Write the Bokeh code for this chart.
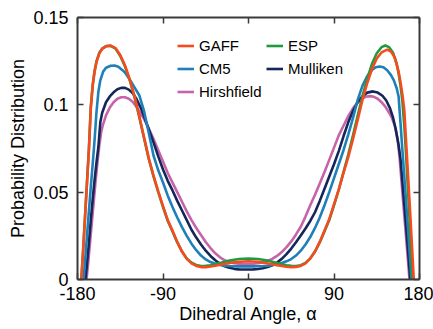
from bokeh.plotting import figure
from bokeh.models import Range1d, FixedTicker, LinearAxis, Legend, LegendItem, CustomJSTickFormatter
from bokeh.embed import file_html
from bokeh.resources import INLINE

# ---- data ----
x_ticks = [-180, -90, 0, 90, 180]
y_ticks = [0, 0.05, 0.1, 0.15]

gaff_a = [-176, -174, -172, -170, -168, -166, -164, -162, -160, -157, -154, -150, -145, -140, -135, -130,
          -125, -120, -115, -110, -105, -100, -95, -90, -85, -80, -75, -70, -65, -60, -55, -50, -45, -40,
          -35, -30, -25, -20, -15, -10, -5, 0, 5, 10, 15, 20, 25, 30, 35, 40, 45, 50, 55, 60, 65, 70, 75,
          80, 85, 90, 95, 100, 105, 110, 115, 120, 125, 130, 135, 140, 146, 150, 154, 158, 160, 162, 164,
          166, 168, 170, 172, 174]
gaff_p = [0.0, 0.017, 0.036, 0.055, 0.074, 0.098, 0.111, 0.119, 0.1245, 0.1295, 0.1320, 0.1335, 0.1339,
          0.1325, 0.1285, 0.1225, 0.1145, 0.1050, 0.0935, 0.0815, 0.0695, 0.0595, 0.0505, 0.0420, 0.0340,
          0.0280, 0.0215, 0.0160, 0.0118, 0.0092, 0.0078, 0.0071, 0.0071, 0.0074, 0.0079, 0.0084, 0.0089,
          0.0094, 0.0098, 0.0101, 0.0103, 0.0104, 0.0103, 0.0101, 0.0097, 0.0092, 0.0087, 0.0082, 0.0077,
          0.0073, 0.0071, 0.0072, 0.0078, 0.0092, 0.0120, 0.0160, 0.0215, 0.0280, 0.0345, 0.0430, 0.0515,
          0.0610, 0.0700, 0.0805, 0.0915, 0.1030, 0.1125, 0.1205, 0.1265, 0.1300, 0.1316, 0.1305, 0.1270,
          0.1190, 0.1130, 0.1060, 0.0970, 0.0780, 0.0590, 0.0400, 0.0200, 0.0]

esp_a = [-176, -174, -172, -170, -168, -166, -164, -162, -160, -157, -154, -150, -145, -140, -135, -130,
         -125, -120, -115, -110, -105, -100, -95, -90, -85, -80, -75, -70, -65, -60, -55, -50, -45, -40,
         -35, -30, -25, -20, -15, -10, -5, 0, 5, 10, 15, 20, 25, 30, 35, 40, 45, 50, 55, 60, 65, 70, 75,
         80, 85, 90, 95, 100, 105, 110, 115, 120, 125, 130, 135, 140, 144, 148, 152, 156, 158, 160, 162,
         164, 166, 168, 170, 172, 172.5]
esp_p = [0.0, 0.018, 0.037, 0.056, 0.075, 0.099, 0.1115, 0.1195, 0.125, 0.1298, 0.1322, 0.1336, 0.1338,
         0.1322, 0.1280, 0.1220, 0.1140, 0.1045, 0.0930, 0.0810, 0.0690, 0.0590, 0.0500, 0.0415, 0.0335,
         0.0275, 0.0212, 0.0160, 0.0120, 0.0096, 0.0083, 0.0077, 0.0078, 0.0082, 0.0088, 0.0095, 0.0102,
         0.0108, 0.0113, 0.0117, 0.0119, 0.0120, 0.0119, 0.0117, 0.0113, 0.0108, 0.0102, 0.0095, 0.0088,
         0.0082, 0.0078, 0.0077, 0.0082, 0.0095, 0.0121, 0.0160, 0.0212, 0.0275, 0.0340, 0.0425, 0.0515,
         0.0615, 0.0715, 0.0825, 0.0940, 0.1050, 0.1150, 0.1235, 0.1295, 0.1330, 0.1340, 0.1330, 0.1300,
         0.1235, 0.1180, 0.1110, 0.1020, 0.0880, 0.0700, 0.0500, 0.0300, 0.0080, 0.0]

cm5_a = [-173.5, -172, -170, -168, -166, -164, -162, -160, -158, -156, -153, -150, -145, -141, -137, -133,
         -130, -125, -120, -115, -110, -105, -100, -95, -90, -85, -80, -75, -70, -65, -60, -55, -50, -45,
         -40, -35, -30, -25, -20, -15, -10, -5, 0, 5, 10, 15, 20, 25, 30, 35, 40, 45, 50, 55, 60, 65, 70,
         75, 80, 85, 90, 95, 100, 105, 110, 115, 120, 125, 130, 134, 138, 142, 146, 150, 153, 156, 158,
         160, 162, 164, 166, 168, 170, 171.6]
cm5_p = [0.0, 0.011, 0.025, 0.039, 0.053, 0.066, 0.080, 0.096, 0.1075, 0.1140, 0.1190, 0.1212, 0.1224,
         0.1225, 0.1218, 0.1200, 0.1185, 0.1145, 0.1100, 0.1055, 0.0965, 0.0840, 0.0710, 0.0625, 0.0555,
         0.0480, 0.0415, 0.0355, 0.0300, 0.0250, 0.0205, 0.0168, 0.0137, 0.0115, 0.0100, 0.0090, 0.0083,
         0.0079, 0.0077, 0.0076, 0.0075, 0.0075, 0.0075, 0.0075, 0.0076, 0.0077, 0.0079, 0.0082, 0.0087,
         0.0094, 0.0104, 0.0117, 0.0137, 0.0165, 0.0200, 0.0243, 0.0295, 0.0355, 0.0425, 0.0500, 0.0580,
         0.0660, 0.0740, 0.0830, 0.0925, 0.1030, 0.1110, 0.1165, 0.1200, 0.1215, 0.1220, 0.1215, 0.1198,
         0.1170, 0.1140, 0.1095, 0.1048, 0.0895, 0.0740, 0.0590, 0.0435, 0.0280, 0.0125, 0.0]

mul_a = [-171.6, -170, -168, -166, -164, -162, -160, -158, -156, -154, -150, -146, -142, -138, -134, -130,
         -126, -122, -118, -114, -110, -105, -100, -95, -90, -85, -80, -75, -70, -65, -60, -55, -50, -45,
         -40, -35, -30, -25, -20, -15, -10, -5, 0, 5, 10, 15, 20, 25, 30, 35, 40, 45, 50, 55, 60, 65, 70,
         75, 80, 85, 90, 95, 100, 105, 110, 115, 120, 125, 131, 136, 141, 145, 149, 152, 155, 158, 160,
         162, 164, 166, 168, 170, 170.3]
mul_p = [0.0, 0.009, 0.021, 0.034, 0.046, 0.057, 0.067, 0.076, 0.090, 0.0955, 0.1015, 0.1048, 0.1072,
         0.1089, 0.1097, 0.1097, 0.1087, 0.1067, 0.1035, 0.0990, 0.0935, 0.0860, 0.0785, 0.0705, 0.0630,
         0.0565, 0.0510, 0.0450, 0.0395, 0.0340, 0.0285, 0.0240, 0.0200, 0.0165, 0.0135, 0.0110, 0.0090,
         0.0076, 0.0067, 0.0061, 0.0058, 0.0057, 0.0057, 0.0058, 0.0060, 0.0064, 0.0071, 0.0082, 0.0097,
         0.0118, 0.0145, 0.0177, 0.0213, 0.0252, 0.0292, 0.0335, 0.0385, 0.0450, 0.0520, 0.0590, 0.0660,
         0.0735, 0.0820, 0.0900, 0.0965, 0.1015, 0.1050, 0.1070, 0.1077, 0.1070, 0.1052, 0.1025, 0.0980,
         0.0930, 0.0860, 0.0770, 0.0690, 0.0560, 0.0430, 0.0295, 0.0160, 0.0020, 0.0]

hir_a = [-170.5, -169, -167, -165, -163, -161, -159, -157, -155, -153, -150, -146, -142, -138, -134, -130,
         -126, -122, -118, -114, -110, -105, -100, -95, -90, -85, -80, -75, -70, -65, -60, -55, -50, -45,
         -40, -35, -30, -25, -20, -15, -10, -5, 0, 5, 10, 15, 20, 25, 30, 35, 40, 45, 50, 55, 60, 65, 70,
         75, 80, 85, 90, 95, 100, 105, 110, 115, 120, 124, 128, 132, 136, 140, 144, 148, 151, 154, 157,
         159, 161, 163, 165, 167, 169, 169.5]
hir_p = [0.0, 0.008, 0.020, 0.032, 0.044, 0.056, 0.067, 0.077, 0.0845, 0.0890, 0.0940, 0.0985, 0.1015,
         0.1035, 0.1043, 0.1043, 0.1035, 0.1018, 0.0990, 0.0952, 0.0920, 0.0865, 0.0805, 0.0740, 0.0675,
         0.0610, 0.0555, 0.0500, 0.0445, 0.0390, 0.0340, 0.0295, 0.0255, 0.0215, 0.0180, 0.0150, 0.0127,
         0.0110, 0.0099, 0.0093, 0.0090, 0.0089, 0.0089, 0.0090, 0.0093, 0.0098, 0.0106, 0.0118, 0.0135,
         0.0157, 0.0185, 0.0218, 0.0258, 0.0302, 0.0360, 0.0425, 0.0485, 0.0550, 0.0615, 0.0685, 0.0755,
         0.0825, 0.0880, 0.0935, 0.0980, 0.1015, 0.1038, 0.1048, 0.1050, 0.1046, 0.1035, 0.1015, 0.0990,
         0.0955, 0.0925, 0.0880, 0.0800, 0.0700, 0.0565, 0.0430, 0.0300, 0.0165, 0.0030, 0.0]

series = [
    ("Hirshfield", hir_a, hir_p, "#c764a9"),
    ("Mulliken", mul_a, mul_p, "#15275a"),
    ("CM5", cm5_a, cm5_p, "#1f7fb9"),
    ("ESP", esp_a, esp_p, "#1f9a3e"),
    ("GAFF", gaff_a, gaff_p, "#f64a1f"),
]

FONT = "Liberation Sans"
AX = "#3a3a3a"

p = figure(width=433, height=329, output_backend="svg", toolbar_location=None,
           x_range=Range1d(-180, 180), y_range=Range1d(0, 0.15),
           min_border_left=77, min_border_right=14, min_border_top=17, min_border_bottom=50,
           x_axis_label="Dihedral Angle, \u03b1", y_axis_label="Probability Distribution")
p.grid.visible = False
p.outline_line_color = None
p.background_fill_color = "white"
p.border_fill_color = "white"

renderers = {}
for name, a, v, c in series:
    renderers[name] = p.line(a, v, line_color=c, line_width=2.6)

fmt = CustomJSTickFormatter(code="return tick.toString();")

def style_axis(ax, labels=True):
    ax.axis_line_color = AX
    ax.axis_line_width = 2
    ax.major_tick_line_color = AX
    ax.major_tick_line_width = 1.5
    ax.major_tick_in = 6
    ax.major_tick_out = 0
    ax.minor_tick_line_color = None
    if labels:
        ax.major_label_text_font = FONT
        ax.major_label_text_font_size = "18px"
        ax.major_label_text_color = "black"
        ax.axis_label_text_font = FONT
        ax.axis_label_text_font_size = "18px"
        ax.axis_label_text_font_style = "normal"
        ax.axis_label_text_color = "black"
    else:
        ax.major_label_text_font_size = "0px"
        ax.major_label_text_color = None

xa = p.xaxis[0]
xa.ticker = FixedTicker(ticks=x_ticks)
xa.formatter = fmt
style_axis(xa)
xa.major_label_standoff = 7
xa.axis_label_standoff = 1

ya = p.yaxis[0]
ya.ticker = FixedTicker(ticks=y_ticks)
ya.formatter = fmt
style_axis(ya)
ya.major_label_standoff = 9
ya.axis_label_standoff = 2

top = LinearAxis(ticker=FixedTicker(ticks=x_ticks), formatter=fmt)
style_axis(top, labels=False)
p.add_layout(top, "above")
right = LinearAxis(ticker=FixedTicker(ticks=y_ticks), formatter=fmt)
style_axis(right, labels=False)
p.add_layout(right, "right")

def make_legend(names, loc):
    lg = Legend(items=[LegendItem(label=n, renderers=[renderers[n]]) for n in names],
                location=loc, orientation="vertical")
    lg.padding = 0
    lg.margin = 0
    lg.spacing = 0
    lg.border_line_color = None
    lg.background_fill_alpha = 0
    lg.glyph_width = 17
    lg.glyph_height = 23
    lg.label_height = 23
    lg.label_standoff = 5
    lg.label_text_font = FONT
    lg.label_text_font_size = "15px"
    lg.label_text_color = "black"
    return lg

p.add_layout(make_legend(["GAFF", "CM5", "Hirshfield"], (100, 176)), "center")
p.add_layout(make_legend(["ESP", "Mulliken"], (189, 199)), "center")

open("out.html", "w").write(file_html(p, INLINE))
